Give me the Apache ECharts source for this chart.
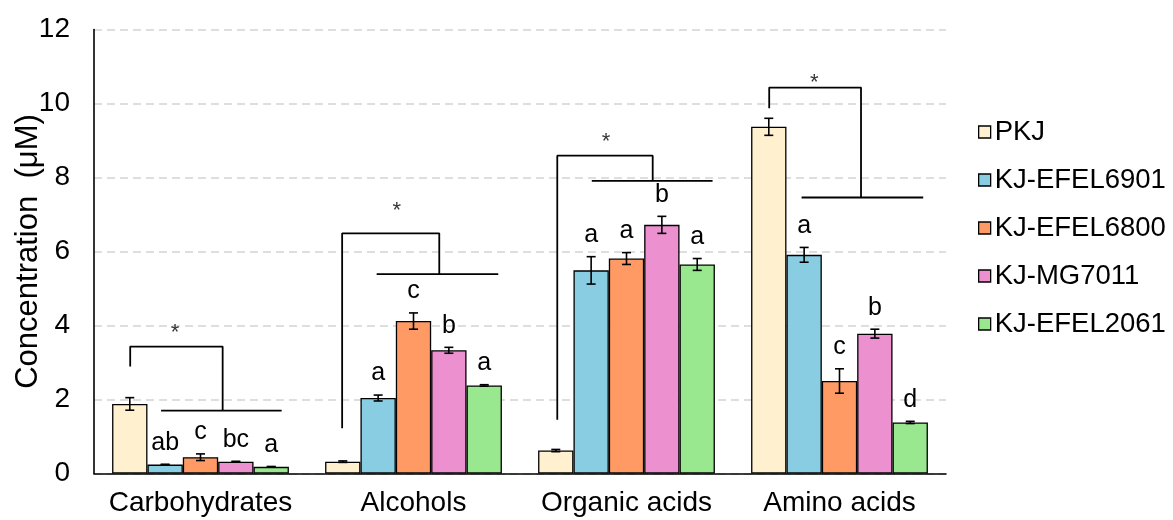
<!DOCTYPE html>
<html>
<head>
<meta charset="utf-8">
<script src="https://cdn.jsdelivr.net/npm/echarts@6/dist/echarts.min.js"></script>
<style>
html,body{margin:0;padding:0;background:#fff;}
#chart{width:1173px;height:520px;}
</style>
</head>
<body>
<div id="chart"></div>
<script>
// ---- data ----
const categories = ['Carbohydrates', 'Alcohols', 'Organic acids', 'Amino acids'];
const seriesNames = ['PKJ', 'KJ-EFEL6901', 'KJ-EFEL6800', 'KJ-MG7011', 'KJ-EFEL2061'];
const pkj      = [1.88, 0.32, 0.62, 9.37];
const efel6901 = [0.24, 2.04, 5.49, 5.91];
const efel6800 = [0.44, 4.12, 5.81, 2.50];
const mg7011   = [0.32, 3.33, 6.72, 3.78];
const efel2061 = [0.18, 2.38, 5.65, 1.38];
const pkjErr      = [0.17, 0.02, 0.03, 0.23];
const efel6901Err = [0.01, 0.08, 0.37, 0.20];
const efel6800Err = [0.09, 0.22, 0.16, 0.33];
const mg7011Err   = [0.01, 0.08, 0.23, 0.12];
const efel2061Err = [0.01, 0.02, 0.16, 0.03];
const pkjLetters      = ['', '', '', ''];
const efel6901Letters = ['ab', 'a', 'a', 'a'];
const efel6800Letters = ['c', 'c', 'a', 'c'];
const mg7011Letters   = ['bc', 'b', 'b', 'b'];
const efel2061Letters = ['a', 'a', 'a', 'd'];
const yTicks = [0, 2, 4, 6, 8, 10, 12];
// significance brackets (x in category units 0..4, y in µM)
const bracketLeftX  = [0.170, 1.165, 2.175, 3.170];
const bracketLeftY  = [2.89, 1.22, 1.45, 9.87];
const bracketTopY   = [3.43, 6.49, 8.59, 10.43];
const bracketRightX = [0.604, 1.621, 2.623, 3.601];
const bracketBarY   = [1.70, 5.39, 7.91, 7.46];
const bracketBarX0  = [0.315, 1.327, 2.337, 3.322];
const bracketBarX1  = [0.881, 1.898, 2.904, 3.893];
const starX = [0.380, 1.421, 2.404, 3.382];
const starY = [3.93, 7.23, 9.09, 10.68];

const values = [pkj, efel6901, efel6800, mg7011, efel2061];
const errs = [pkjErr, efel6901Err, efel6800Err, mg7011Err, efel2061Err];
const letters = [pkjLetters, efel6901Letters, efel6800Letters, mg7011Letters, efel2061Letters];
const colors = ['#FFF0CF', '#88CDE2', '#FF9A64', '#EC90D0', '#99E890'];
const FONT = 'Liberation Sans, Arial, Helvetica, sans-serif';
const GAP = 0.17;

const chart = echarts.init(document.getElementById('chart'), null, {renderer: 'canvas'});

const series = [];
seriesNames.forEach((name, i) => {
  series.push({
    name: name,
    type: 'bar',
    data: values[i],
    barGap: '0%',
    barCategoryGap: (GAP * 100) + '%',
    itemStyle: {color: colors[i], borderColor: '#000', borderWidth: 1.3},
    z: 2
  });
});
seriesNames.forEach((name, i) => {
  series.push({
    type: 'custom',
    name: name + ' err',
    z: 5,
    silent: true,
    data: values[i].map((v, k) => [k, v, errs[i][k]]),
    renderItem: function (params, api) {
      const ci = api.value(0), v = api.value(1), e = api.value(2);
      const band = api.size([1, 0])[0];
      const bw = band * (1 - GAP) / 5;
      const x = api.coord([ci, v])[0] + (i - 2) * bw;
      const yT = api.coord([ci, v + e])[1];
      const yB = api.coord([ci, v - e])[1];
      const cap = 4.5;
      const ls = {stroke: '#000', lineWidth: 1.6};
      const children = [
        {type: 'line', shape: {x1: x, y1: yT, x2: x, y2: yB}, style: ls},
        {type: 'line', shape: {x1: x - cap, y1: yT, x2: x + cap, y2: yT}, style: ls},
        {type: 'line', shape: {x1: x - cap, y1: yB, x2: x + cap, y2: yB}, style: ls}
      ];
      const t = letters[i][params.dataIndex];
      if (t) {
        children.push({type: 'text', x: x, y: yT - 9, style: {
          text: t, fill: '#000', font: '25px ' + FONT, textAlign: 'center', textVerticalAlign: 'bottom'}});
      }
      return {type: 'group', children: children};
    }
  });
});
categories.forEach((c, k) => {
  series.push({
    type: 'line',
    name: 'bracket' + k,
    xAxisIndex: 1,
    yAxisIndex: 0,
    symbol: 'none',
    silent: true,
    z: 6,
    lineStyle: {color: '#000', width: 1.8},
    data: [
      [bracketLeftX[k], bracketLeftY[k]],
      [bracketLeftX[k], bracketTopY[k]],
      [bracketRightX[k], bracketTopY[k]],
      [bracketRightX[k], bracketBarY[k]],
      [bracketBarX0[k], bracketBarY[k]],
      [bracketBarX1[k], bracketBarY[k]]
    ]
  });
});
series.push({
  type: 'scatter',
  name: 'stars',
  xAxisIndex: 1,
  yAxisIndex: 0,
  symbolSize: 0,
  silent: true,
  z: 6,
  data: starX.map((x, k) => [x, starY[k]]),
  label: {show: true, position: 'inside', formatter: '*', color: '#000',
          fontSize: 22, fontFamily: FONT, offset: [0, 5]}
});

chart.setOption({
  animation: false,
  backgroundColor: '#fff',
  textStyle: {fontFamily: FONT, color: '#000'},
  grid: {left: 94, right: 227, top: 29.5, bottom: 46.5, containLabel: false, outerBoundsMode: 'none'},
  legend: {
    data: seriesNames,
    orient: 'vertical',
    left: 973,
    top: 113,
    itemWidth: 12,
    itemHeight: 12,
    itemGap: 20,
    icon: 'rect',
    itemStyle: {borderColor: '#000', borderWidth: 1.3},
    textStyle: {fontSize: 27.5, color: '#000', fontFamily: FONT, padding: [0, 0, 0, -1]}
  },
  xAxis: [{
    type: 'category',
    data: categories,
    axisLine: {show: true, lineStyle: {color: '#000', width: 1.6}},
    axisTick: {show: false},
    axisLabel: {fontSize: 28, color: '#000', margin: 16, fontFamily: FONT, interval: 0},
    splitLine: {show: false},
    z: 3
  }, {
    type: 'value',
    min: 0,
    max: 4,
    show: false
  }],
  yAxis: {
    type: 'value',
    min: yTicks[0],
    max: yTicks[yTicks.length - 1],
    interval: 2,
    name: 'Concentration  (μM)',
    nameLocation: 'middle',
    nameGap: 50,
    nameMoveOverlap: false,
    nameTextStyle: {fontSize: 31, color: '#000', fontFamily: FONT},
    axisLine: {show: true, lineStyle: {color: '#000', width: 1.6}},
    axisTick: {show: false},
    axisLabel: {fontSize: 28, color: '#000', margin: 24, fontFamily: FONT},
    splitLine: {show: true, lineStyle: {color: '#D3D3D3', width: 1.5, type: [8, 5]}}
  },
  series: series
});
</script>
</body>
</html>
